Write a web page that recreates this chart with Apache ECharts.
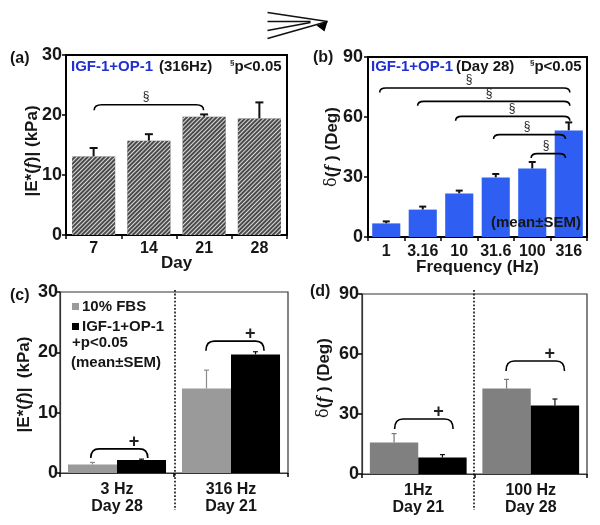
<!DOCTYPE html>
<html><head><meta charset="utf-8">
<style>html,body{margin:0;padding:0;background:#fff}#c{width:600px;height:525px}</style>
<script src="https://cdn.jsdelivr.net/npm/echarts@6/dist/echarts.min.js"></script>
</head><body><div id="c"></div>
<script>
// ---- data ----
// bracket rows: x start, x end, y top, y foot, mark, mark x (all in axis units)
const daysA = ['7','14','21','28'];
const meanA = [13.1, 15.7, 19.7, 19.4];
const topA  = [14.5, 16.8, 20.1, 22.1];
const bracketsA = [[0.01, 1.99, 21.7, 20.8, '§', 0.95]];

const freqB = ['1','3.16','10','31.6','100','316'];
const meanB = [6.8, 13.7, 21.8, 29.8, 34.2, 53.3];
const topB  = [7.8, 15.2, 23.2, 31.5, 37.5, 57.3];
const bracketsB = [
  [-0.18, 5.03, 74.5, 72.3, '§', 2.27],
  [0.86, 5.03, 67.8, 65.6, '§', 2.82],
  [1.90, 5.03, 60.3, 58.1, '§', 3.45],
  [2.94, 4.91, 51.2, 49.0, '§', 3.86],
  [3.97, 4.91, 41.7, 39.5, '§', 4.38]
];

const catsC = ['3 Hz\nDay 28','316 Hz\nDay 21'];
const fbsC = [1.4, 14.0];
const fbsTopC = [1.75, 17.05];
const igfC = [2.15, 19.65];
const igfTopC = [2.3, 20.1];
const bracketsC = [[-0.23, 0.27, 4.0, 2.5, '+', 0.15], [0.78, 1.29, 21.85, 20.25, '+', 1.17]];

const catsD = ['1Hz\nDay 21','100 Hz\nDay 28'];
const fbsD = [15.8, 42.7];
const fbsTopD = [20.2, 47.3];
const igfD = [8.2, 34.2];
const igfTopD = [9.7, 37.5];
const bracketsD = [[-0.21, 0.31, 27.5, 22.5, '+', 0.18], [0.78, 1.30, 56.5, 51.5, '+', 1.17]];

const FONT = '"Liberation Sans", Arial, sans-serif';
const INK = '#161616', BLUE = '#2f5ff2', NAVY = '#1f2fd0';

const grids = [
  {left:66, top:55, width:221, height:180, borderColor:'#000', borderWidth:2},
  {left:368, top:57, width:219, height:180, borderColor:'#000', borderWidth:2},
  {left:60, top:292, width:228, height:181, borderColor:'#333', borderWidth:1.2},
  {left:362, top:294, width:225, height:180, borderColor:'#333', borderWidth:1.2}
].map(g => Object.assign({show:true, backgroundColor:'transparent'}, g));

const nameRich = {
  b:{fontFamily:FONT,fontWeight:'bold',fontSize:17,color:INK},
  i:{fontFamily:'"Liberation Serif",serif',fontWeight:'bold',fontStyle:'italic',fontSize:18,color:INK},
  d:{fontFamily:'"DejaVu Serif",serif',fontWeight:'normal',fontSize:16,color:INK}
};

function catAxis(i, data, name, extra){
  return Object.assign({
    type:'category', gridIndex:i, data, name, nameLocation:'middle', nameMoveOverlap:false,
    nameTextStyle:{fontFamily:FONT,fontWeight:'bold',fontSize:17,color:INK},
    axisLine:{show:true,lineStyle:{color:i<2?'#000':'#333',width:i<2?2:1.2}},
    axisTick:{show:true,length:4,inside:false,alignWithLabel:false,lineStyle:{color:'#000',width:1.5}},
    axisLabel:{interval:0,fontFamily:FONT,fontWeight:'bold',fontSize:16,color:INK,margin:i===0?5:(i===1?6:8),lineHeight:17},
    splitLine:{show:false}
  }, extra||{});
}
function valAxis(i, max, step, name, gap, pad, margin){
  return {
    type:'value', gridIndex:i, min:0, max, interval:step, name, nameLocation:'middle', nameGap:gap, nameMoveOverlap:false,
    nameTextStyle:{rich:nameRich,fontFamily:FONT,fontWeight:'bold',fontSize:17,color:INK,padding:pad},
    axisLine:{show:true,onZero:false,lineStyle:{color:i<2?'#000':'#333',width:i<2?2:1.2}},
    axisTick:{show:true,length:4,lineStyle:{color:'#000',width:1.5}},
    axisLabel:{fontFamily:FONT,fontWeight:'bold',fontSize:18,color:INK,margin},
    splitLine:{show:false}
  };
}
// hidden linear x axis sharing each panel's category span, for bracket and whisker ends
function hiddenX(i, n){
  return {type:'value',gridIndex:i,min:-0.5,max:n-0.5,show:false,splitLine:{show:false}};
}

function errSeries(i, xs, tops, bases, color, lw, capPx){
  return {
    type:'custom', xAxisIndex:4+i, yAxisIndex:i, silent:true, z:1,
    data: xs.map((x,k)=>[x, bases[k], tops[k]]),
    encode:{x:0,y:[1,2]},
    renderItem(p, api){
      const a = api.coord([api.value(0), api.value(1)]);
      const b = api.coord([api.value(0), api.value(2)]);
      return {type:'group',children:[
        {type:'line',shape:{x1:a[0],y1:a[1],x2:b[0],y2:b[1]},style:{stroke:color,lineWidth:lw}},
        {type:'line',shape:{x1:b[0]-capPx,y1:b[1],x2:b[0]+capPx,y2:b[1]},style:{stroke:color,lineWidth:lw}}
      ]};
    }
  };
}
function bracketSeries(i, list, lw, markSize, markBold, markGap){
  return {
    type:'custom', xAxisIndex:4+i, yAxisIndex:i, silent:true, z:3,
    data:list, encode:{x:[0,1],y:[2,3]},
    renderItem(p, api){
      const row = list[p.dataIndex];
      const L = api.coord([row[0],row[2]]), R = api.coord([row[1],row[2]]);
      const B = api.coord([row[0],row[3]]);
      const M = api.coord([row[5],row[2]]);
      const y = L[1], yb = B[1], r = Math.min(6, yb-y);
      const path = `M${L[0]} ${yb}Q${L[0]} ${y} ${L[0]+r*1.4} ${y}L${R[0]-r*1.4} ${y}Q${R[0]} ${y} ${R[0]} ${yb}`;
      return {type:'group',children:[
        {type:'path',shape:{pathData:path,layout:'none'},
          style:{fill:null,stroke:'#000',lineWidth:lw}},
        {type:'text',x:M[0],y:y-markGap,
          style:{text:row[4],fontFamily:FONT,fontWeight:markBold?'bold':'normal',fontSize:markSize,fill:'#222',align:'center',verticalAlign:'middle'}}
      ]};
    }
  };
}
const idx = a => a.map((_,k)=>k);
const off = 0.215;

const series = [
  {type:'bar',name:'IGF-1+OP-1 (316Hz)',xAxisIndex:0,yAxisIndex:0,data:meanA,barWidth:'78%',z:2,
   itemStyle:{color:'#4a4a4a',decal:{symbol:'rect',color:'#dcdcdc',dashArrayX:[1,0],dashArrayY:[1,1.1],rotation:-Math.PI/4}}},
  errSeries(0, idx(daysA), topA, meanA, '#111', 2, 4),
  bracketSeries(0, bracketsA, 1.6, 12, false, 8),

  {type:'bar',name:'IGF-1+OP-1 (Day 28)',xAxisIndex:1,yAxisIndex:1,data:meanB,barWidth:'77%',z:2,itemStyle:{color:BLUE}},
  errSeries(1, idx(freqB), topB, meanB, '#111', 2, 3.5),
  bracketSeries(1, bracketsB, 1.6, 12, false, 8),

  {type:'bar',name:'10% FBS',xAxisIndex:2,yAxisIndex:2,data:fbsC,barWidth:'43%',barGap:'0%',z:2,itemStyle:{color:'#9a9a9a'}},
  {type:'bar',name:'IGF-1+OP-1',xAxisIndex:2,yAxisIndex:2,data:igfC,barWidth:'43%',barGap:'0%',z:2,itemStyle:{color:'#000'}},
  errSeries(2, idx(catsC).map(k=>k-off), fbsTopC, fbsC, '#8a8a8a', 1.2, 2.5),
  errSeries(2, idx(catsC).map(k=>k+off), igfTopC, igfC, '#111', 1.2, 2.5),
  bracketSeries(2, bracketsC, 1.6, 18, true, 7),

  {type:'bar',name:'10% FBS',xAxisIndex:3,yAxisIndex:3,data:fbsD,barWidth:'43%',barGap:'0%',z:2,itemStyle:{color:'#808080'}},
  {type:'bar',name:'IGF-1+OP-1',xAxisIndex:3,yAxisIndex:3,data:igfD,barWidth:'43%',barGap:'0%',z:2,itemStyle:{color:'#000'}},
  errSeries(3, idx(catsD).map(k=>k-off), fbsTopD, fbsD, '#777', 1.2, 2.5),
  errSeries(3, idx(catsD).map(k=>k+off), igfTopD, igfD, '#111', 1.2, 2.5),
  bracketSeries(3, bracketsD, 1.6, 18, true, 7)
];

const T = (left, top, text, style) => ({type:'text',left,top,z:10,silent:true,
  style:Object.assign({text,fontFamily:FONT,fontWeight:'bold',fontSize:15,fill:INK},style||{})});
const pRich = {
  s:{fontFamily:FONT,fontWeight:'bold',fontSize:8,fill:INK,verticalAlign:'top',padding:[0,0,5,0]},
  b:{fontFamily:FONT,fontWeight:'bold',fontSize:15,fill:INK}
};
const dotted = (x, y1, y2) => ({type:'line',z:10,silent:true,shape:{x1:x,y1,x2:x,y2},
  style:{stroke:'#111',lineWidth:1.6,lineDash:[1.8,1.8]}});
const seg = (x1,y1,x2,y2) => ({type:'line',silent:true,shape:{x1,y1,x2,y2},style:{stroke:'#111',lineWidth:1.5}});

const option = {
  animation:false, backgroundColor:'#fff', grid:grids,
  xAxis:[
    catAxis(0, daysA, 'Day', {nameGap:20}),
    catAxis(1, freqB, 'Frequency (Hz)', {nameGap:22}),
    catAxis(2, catsC, '', {}),
    catAxis(3, catsD, '', {}),
    hiddenX(0,4), hiddenX(1,6), hiddenX(2,2), hiddenX(3,2)
  ],
  yAxis:[
    valAxis(0,30,10,'{b||E*(}{i|f}{b|)| (kPa)}',25,[0,12,0,0],4),
    valAxis(1,90,30,'{d|δ}{b|(}{i|f}{b| ) (Deg)}',27,[0,0,0,0],5),
    valAxis(2,30,10,'{b||E*(}{i|f}{b|)|  (kPa)}',27,[0,4,0,0],2),
    valAxis(3,90,30,'{d|δ}{b|(}{i|f}{b| ) (Deg)}',29,[0,0,0,12],3)
  ],
  legend:{
    data:['10% FBS','IGF-1+OP-1'], orient:'vertical', left:67, top:293, itemWidth:7, itemHeight:7, itemGap:3,
    selectedMode:false, icon:'rect',
    textStyle:{fontFamily:FONT,fontWeight:'bold',fontSize:15,color:INK,lineHeight:17,padding:[0,0,0,-2]}
  },
  series,
  graphic:[
    T(10,51,'(a)',{fontSize:16}), T(313,50,'(b)',{fontSize:16}), T(10,288,'(c)',{fontSize:16}), T(310,284,'(d)',{fontSize:16}),
    T(71,59,'IGF-1+OP-1',{fill:NAVY}), T(159,59,'(316Hz)'),
    T(230,59,'{s|§}{b|p<0.05}',{rich:pRich}),
    T(371,59,'IGF-1+OP-1',{fill:NAVY}), T(456,59,'(Day 28)'),
    T(530,59,'{s|§}{b|p<0.05}',{rich:pRich}),
    T(491,215,'(mean±SEM)'),
    T(72,335,'+p<0.05'), T(71,355,'(mean±SEM)'),
    dotted(175,290,510), dotted(474,290,510),
    {type:'group',left:265,top:10,children:[
      seg(0,0,60,9), seg(0,9,43,9), seg(0,18,43,10), seg(0,26,60,9),
      {type:'polygon',silent:true,shape:{points:[[49,13],[60,9],[57,19]]},style:{fill:'#000'}}
    ]}
  ]
};
const chart = echarts.init(document.getElementById('c'), null, {renderer:'canvas'});
chart.setOption(option);
</script></body></html>
